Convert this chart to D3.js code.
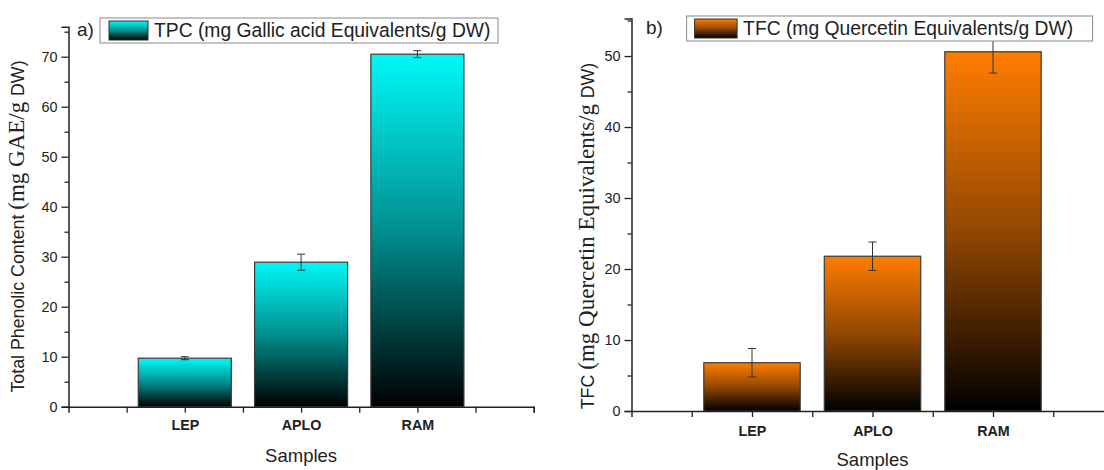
<!DOCTYPE html>
<html>
<head>
<meta charset="utf-8">
<script src="https://cdn.jsdelivr.net/npm/d3@7"></script>
<style>
  body { margin: 0; background: #fff; }
  svg { display: block; font-family: Arial, "Liberation Sans", sans-serif; }
</style>
</head>
<body>
<svg id="chart" width="1104" height="470"></svg>
<script>
// data
const samples = ['LEP', 'APLO', 'RAM'];
const tpcValues = [9.7, 28.9, 70.5];
const tpcErrors = [0.3, 1.6, 0.7];
const tfcValues = [6.8, 21.8, 50.6];
const tfcErrors = [2.0, 2.0, 3.0];
const tpcTicks = [0, 10, 20, 30, 40, 50, 60, 70];
const tfcTicks = [0, 10, 20, 30, 40, 50];

const sans = 'Arial, "Liberation Sans", sans-serif';
const serif = '"Liberation Serif", "Times New Roman", serif';

const svg = d3.select('#chart');
const defs = svg.append('defs');

// top colour fading to black, like the Origin gradient fill
function makeGradient(id, color, mid) {
    const g = defs.append('linearGradient')
        .attr('id', id)
        .attr('x1', 0).attr('y1', 0).attr('x2', 0).attr('y2', 1);
    g.append('stop').attr('offset', '0%').attr('stop-color', color);
    g.append('stop').attr('offset', '50%').attr('stop-color', mid);
    g.append('stop').attr('offset', '100%').attr('stop-color', '#000');
}
makeGradient('gradCyan', '#00f8f8', '#008f8f');
makeGradient('gradOrange', '#ff7d00', '#924700');

function drawPanel(opts) {
    const x = d3.scaleLinear().domain([0, 4]).range(opts.xRange);
    const y = d3.scaleLinear().domain([0, opts.yMax]).range(opts.yRange);
    const g = svg.append('g');

    // bars
    g.selectAll('.bar')
        .data(opts.values)
        .enter()
        .append('rect')
        .attr('x', (d, i) => x(i + 1 - 0.4))
        .attr('y', d => y(d))
        .attr('width', x(0.8) - x(0))
        .attr('height', d => y(0) - y(d))
        .attr('fill', `url(#${opts.grad})`)
        .attr('stroke', '#3a3a3a')
        .attr('stroke-width', 1.2);

    // error bars
    const err = g.selectAll('.err')
        .data(opts.values)
        .enter()
        .append('g')
        .attr('stroke', '#333')
        .attr('stroke-width', 1);
    err.append('line')
        .attr('x1', (d, i) => x(i + 1)).attr('x2', (d, i) => x(i + 1))
        .attr('y1', (d, i) => y(d - opts.errors[i]))
        .attr('y2', (d, i) => y(d + opts.errors[i]));
    [-1, 1].forEach(s => {
        err.append('line')
            .attr('x1', (d, i) => x(i + 1) - 4).attr('x2', (d, i) => x(i + 1) + 4)
            .attr('y1', (d, i) => y(d + s * opts.errors[i]))
            .attr('y2', (d, i) => y(d + s * opts.errors[i]));
    });

    // y axis
    const yAxis = g.append('g')
        .attr('transform', `translate(${opts.xRange[0]},0)`)
        .call(d3.axisLeft(y).tickValues(opts.yTicks).tickSize(7).tickPadding(4));
    yAxis.append('g')
        .call(d3.axisLeft(y).tickValues(d3.range(5, opts.yMax + 0.5, 10)).tickSize(4).tickFormat(''))
        .select('.domain').remove();

    // x axis
    const xAxis = g.append('g')
        .attr('transform', `translate(0,${opts.yRange[0]})`)
        .call(d3.axisBottom(x).tickValues([1, 2, 3]).tickSize(6).tickPadding(opts.xPad)
            .tickFormat(d => samples[d - 1]));
    xAxis.append('g')
        .call(d3.axisBottom(x).tickValues([0.5, 1.5, 2.5, 3.5, 4]).tickSize(6).tickFormat(''))
        .select('.domain').remove();

    [yAxis, xAxis].forEach(a => {
        a.selectAll('.domain').attr('stroke', '#222').attr('stroke-width', 1.5);
        a.selectAll('line').attr('stroke', '#222').attr('stroke-width', 1.3);
    });
    yAxis.selectAll('text').attr('font-size', '14.4px').attr('fill', '#222').attr('font-family', sans);
    xAxis.selectAll('text').attr('font-size', '14.3px').attr('font-weight', 'bold').attr('fill', '#222')
        .attr('font-family', sans);

    // axis titles
    g.append('text')
        .attr('x', (opts.xRange[0] + opts.xRange[1]) / 2)
        .attr('y', opts.xTitleY)
        .attr('text-anchor', 'middle')
        .attr('font-size', '18.5px')
        .attr('fill', '#222')
        .text('Samples');

    const yt = g.append('text')
        .attr('transform', `translate(${opts.yTitleX},${opts.yTitleY}) rotate(-90)`)
        .attr('text-anchor', 'middle')
        .attr('fill', '#222');
    opts.yTitle.forEach(part => {
        yt.append('tspan')
            .attr('font-family', part.serif ? serif : sans)
            .attr('font-size', part.serif ? '23px' : '17.8px')
            .text(part.t);
    });

    // panel letter
    g.append('text')
        .attr('x', opts.letterX).attr('y', opts.letterY)
        .attr('font-size', '19px').attr('fill', '#222')
        .text(opts.letter);

    // legend
    const lg = g.append('g').attr('transform', `translate(${opts.legend[0]},${opts.legend[1]})`);
    lg.append('rect')
        .attr('width', opts.legend[2]).attr('height', 25)
        .attr('fill', '#fff').attr('stroke', '#8a8a8a').attr('stroke-width', 1);
    lg.append('rect')
        .attr('x', opts.swatch[0]).attr('y', 3).attr('width', opts.swatch[1]).attr('height', 19)
        .attr('fill', `url(#${opts.grad})`).attr('stroke', '#333').attr('stroke-width', 1);
    lg.append('text')
        .attr('x', opts.swatch[0] + opts.swatch[1] + 6).attr('y', 19)
        .attr('font-size', '19.3px').attr('fill', '#222')
        .text(opts.legendText);
}

drawPanel({
    values: tpcValues, errors: tpcErrors, yTicks: tpcTicks, yMax: 76,
    xRange: [68.5, 533.7], yRange: [406.7, 26.7], grad: 'gradCyan', xPad: 7,
    xTitleY: 461.5, yTitleX: 24, yTitleY: 226.5,
    yTitle: [{ t: 'Total Phenolic Content ' }, { t: '(mg GAE/g ', serif: true }, { t: 'DW)' }],
    letter: 'a)', letterX: 77, letterY: 36,
    legend: [100, 18, 398], swatch: [9, 39],
    legendText: 'TPC (mg Gallic acid Equivalents/g DW)'
});

drawPanel({
    values: tfcValues, errors: tfcErrors, yTicks: tfcTicks, yMax: 55.3,
    xRange: [631.5, 1113.5], yRange: [411, 18.4], grad: 'gradOrange', xPad: 9,
    xTitleY: 465.5, yTitleX: 594, yTitleY: 236,
    yTitle: [{ t: 'TFC ' }, { t: '(mg Quercetin Equivalents/g ', serif: true }, { t: 'DW)' }],
    letter: 'b)', letterX: 646, letterY: 34,
    legend: [686.6, 16, 406], swatch: [8, 42.5],
    legendText: 'TFC (mg Quercetin Equivalents/g DW)'
});
</script>
</body>
</html>
